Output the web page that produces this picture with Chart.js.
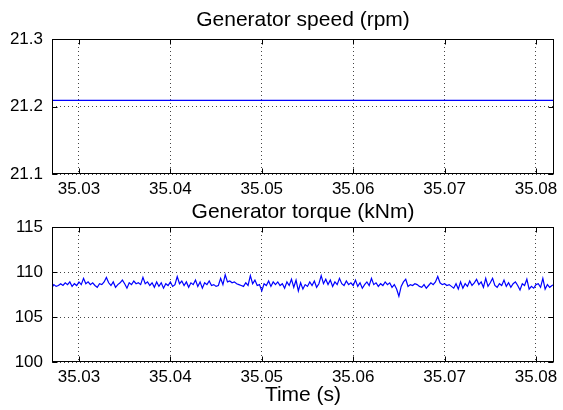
<!DOCTYPE html>
<html>
<head>
<meta charset="utf-8">
<script src="https://cdn.jsdelivr.net/npm/chart.js@4.4.0/dist/chart.umd.min.js"></script>
<style>
    html, body { margin: 0; padding: 0; background: #fff; }
    #wrap { position: relative; width: 563px; height: 410px; }
    canvas { position: absolute; left: 0; }
</style>
</head>
<body>
<div id="wrap">
    <canvas id="speed-chart" width="563" height="200" style="top:0"></canvas>
    <canvas id="torque-chart" width="563" height="210" style="top:200px"></canvas>
</div>
<script>
// --- Data ---
const timeTicks = [35.03, 35.04, 35.05, 35.06, 35.07, 35.08];
const speedTicks = [21.1, 21.2, 21.3];
const torqueTicks = [100, 105, 110, 115];

const speedTime = [35.027, 35.082];
const speedValues = [21.209, 21.209];

// torque samples, one every 0.25 ms starting at 35.027 s
const torqueStart = 35.027;
const torqueStep = 0.00025;
const torqueValues = [
    108.2, 108.6, 108.4, 108.5, 108.7, 108.5, 108.8, 108.6, 108.9, 108.4,
    108.7, 108.5, 108.9, 108.6, 109.3, 108.7, 108.9, 108.6, 108.8, 108.5,
    108.3, 108.7, 108.6, 108.9, 109.4, 108.8, 108.5, 108.9, 108.3, 108.6,
    108.8, 109.1, 108.7, 108.2, 108.8, 108.6, 109.0, 108.7, 108.8, 108.6,
    109.4, 108.7, 108.9, 108.5, 108.8, 108.3, 108.9, 108.4, 108.8, 108.2,
    108.7, 108.5, 108.9, 108.4, 108.6, 109.5, 108.7, 109.0, 108.5, 108.9,
    108.3, 108.8, 108.6, 109.1, 108.4, 108.9, 108.2, 108.8, 108.6, 109.0,
    108.5, 108.6, 108.4, 108.5, 109.3, 108.6, 109.7, 108.9, 109.0, 108.8,
    108.9, 108.7, 108.6, 108.5, 108.4, 108.8, 108.5, 109.6, 108.7, 109.1,
    108.5, 108.6, 107.9, 108.7, 108.5, 109.0, 108.4, 108.9, 108.6, 108.9,
    108.5, 108.7, 108.2, 108.9, 108.5, 109.2, 108.3, 109.1, 107.9, 108.8,
    108.1, 108.6, 108.4, 108.9, 108.5, 109.0, 108.3, 108.7, 109.6, 108.7,
    109.2, 108.6, 109.1, 108.4, 108.9, 108.6, 109.3, 108.7, 108.5, 109.0,
    108.6, 108.8, 108.5, 109.1, 108.4, 108.8, 108.2, 108.6, 108.9, 108.5,
    109.3, 108.6, 108.8, 108.4, 108.7, 108.5, 108.9, 108.6, 108.8, 108.3,
    108.6, 108.1, 107.3, 108.4, 108.9, 109.2, 108.4, 108.6, 108.5, 108.7,
    108.6, 108.4, 108.3, 108.6, 108.2, 108.5, 108.8, 108.6, 108.9, 109.5,
    108.8, 108.6, 108.7, 108.5, 108.6, 108.4, 108.2, 108.7, 108.1, 108.9,
    108.2, 108.7, 108.4, 109.0, 108.5, 108.8, 109.2, 108.6, 108.9, 108.3,
    109.3, 108.4, 108.8, 109.3, 108.5, 108.3, 108.7, 108.5, 109.1, 108.4,
    108.8, 108.3, 108.7, 108.9, 108.5, 108.0, 108.7, 108.5, 109.2, 108.1,
    108.4, 108.2, 108.6, 108.7, 108.3, 109.3, 108.1, 108.6, 108.3, 108.5,
    108.6
];

const xMin = 35.02705;
const xMax = 35.08197;

Chart.defaults.font.family = '"Liberation Sans", Arial, Helvetica, sans-serif';
Chart.defaults.color = '#000';

// MATLAB style: closed box, short inward tick marks, title centred over the axes
const boxPlugin = {
    id: 'boxPlugin',
    afterDatasetsDraw(chart, args, opts) {
        const { ctx, chartArea: a, scales } = chart;
        const L = Math.round(a.left) + 0.5, R = Math.round(a.right) - 0.5;
        const T = Math.round(a.top) + 0.5, B = Math.round(a.bottom) - 0.5;
        ctx.save();
        ctx.strokeStyle = '#000';
        ctx.lineWidth = 1;
        ctx.beginPath();
        scales.x.ticks.forEach(t => {
            const px = Math.round(scales.x.getPixelForValue(t.value)) + 0.5;
            ctx.moveTo(px, T); ctx.lineTo(px, T + 5);
            ctx.moveTo(px, B); ctx.lineTo(px, B - 5);
        });
        scales.y.ticks.forEach(t => {
            const py = Math.round(scales.y.getPixelForValue(t.value)) + 0.5;
            ctx.moveTo(L, py); ctx.lineTo(L + 5, py);
            ctx.moveTo(R, py); ctx.lineTo(R - 5, py);
        });
        ctx.stroke();
        ctx.strokeRect(L, T, R - L, B - T);

        if (opts.text) {
            ctx.fillStyle = '#000';
            ctx.font = '21px "Liberation Sans", Arial, Helvetica, sans-serif';
            ctx.textAlign = 'center';
            ctx.textBaseline = 'middle';
            ctx.fillText(opts.text, (a.left + a.right) / 2, opts.y);
        }
        ctx.restore();
    }
};

function makeChart(id, opts) {
    const ctx = document.getElementById(id).getContext("2d");
    return new Chart(ctx, {
        type: 'line',
        data: {
            datasets: [{
                data: opts.points,
                borderColor: '#0000ff',
                borderWidth: 1.2,
                pointRadius: 0,
                fill: false,
                tension: 0
            }]
        },
        options: {
            responsive: false,
            animation: false,
            layout: { padding: { left: 0, right: 9, top: opts.topPad, bottom: 0 } },
            plugins: {
                legend: { display: false },
                tooltip: { enabled: false },
                title: { display: false },
                boxPlugin: { text: opts.title, y: opts.titleY }
            },
            scales: {
                x: {
                    type: 'linear',
                    min: xMin,
                    max: xMax,
                    afterBuildTicks: (scale) => { scale.ticks = timeTicks.map(v => ({ value: v })); },
                    afterFit: (scale) => { scale.height = opts.xHeight; },
                    grid: { color: '#444', drawTicks: false, lineWidth: 1 },
                    border: { display: false, dash: [1, 3] },
                    ticks: {
                        padding: 5,
                        maxRotation: 0,
                        autoSkip: false,
                        font: { size: 17 },
                        callback: (v) => v.toFixed(2)
                    },
                    title: opts.xTitle
                },
                y: {
                    min: opts.yMin,
                    max: opts.yMax,
                    afterBuildTicks: (scale) => { scale.ticks = opts.yTicks.map(v => ({ value: v })); },
                    afterFit: (scale) => { scale.width = 52; },
                    grid: { color: '#444', drawTicks: false, lineWidth: 1 },
                    border: { display: false, dash: [1, 3] },
                    ticks: {
                        padding: 9,
                        font: { size: 17 },
                        callback: (v) => opts.yFormat(v)
                    }
                }
            }
        },
        plugins: [boxPlugin]
    });
}

makeChart("speed-chart", {
    title: 'Generator speed (rpm)',
    titleY: 20,
    topPad: 39,
    points: speedTime.map((t, i) => ({ x: t, y: speedValues[i] })),
    yMin: speedTicks[0],
    yMax: speedTicks[speedTicks.length - 1],
    yTicks: speedTicks,
    yFormat: (v) => v.toFixed(1),
    xHeight: 26,
    xTitle: { display: false }
});

makeChart("torque-chart", {
    title: 'Generator torque (kNm)',
    titleY: 12,
    topPad: 27,
    points: torqueValues.map((v, i) => ({ x: torqueStart + i * torqueStep, y: v })),
    yMin: torqueTicks[0],
    yMax: torqueTicks[torqueTicks.length - 1],
    yTicks: torqueTicks,
    yFormat: (v) => String(v),
    xHeight: 48,
    xTitle: {
        display: true,
        text: 'Time (s)',
        color: '#000',
        font: { size: 21 },
        padding: { top: 0, bottom: 2 }
    }
});
</script>
</body>
</html>
